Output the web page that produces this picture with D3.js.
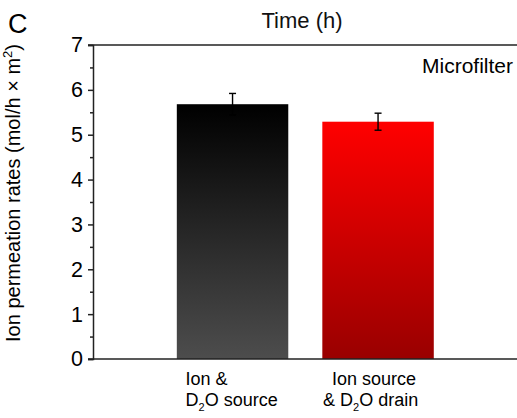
<!DOCTYPE html>
<html>
<head>
<meta charset="utf-8">
<script src="https://cdn.jsdelivr.net/npm/d3@7"></script>
<style>
  html, body { margin: 0; padding: 0; background: #fff; }
  svg { display: block; font-family: "Liberation Sans", Arial, sans-serif; }
</style>
</head>
<body>
<svg id="chart" width="517" height="418"></svg>
<script>
// Ion permeation rates through the microfilter for two configurations
const categories = ["Ion & D2O source", "Ion source & D2O drain"];
const rates = [5.68, 5.29];
const rateErrors = [0.24, 0.19];
const yTicks = [0, 1, 2, 3, 4, 5, 6, 7];
const yMinorTicks = [0.5, 1.5, 2.5, 3.5, 4.5, 5.5, 6.5];

const svg = d3.select("#chart");
const W = 517, H = 418;
const plot = { left: 93, right: 518, top: 45, bottom: 359 };

const x = d3.scaleBand()
  .domain(categories)
  .range([plot.left, 517.6])
  .paddingInner(0.234)
  .paddingOuter(0.576);

const y = d3.scaleLinear().domain([0, 7]).range([plot.bottom, plot.top]);

// vertical gradients for the two bars
const defs = svg.append("defs");
const gradStops = [
  ["#000000", "#4d4d4d"],
  ["#ff0000", "#990000"]
];
gradStops.forEach((s, i) => {
  const g = defs.append("linearGradient")
    .attr("id", "barGrad" + i)
    .attr("x1", 0).attr("y1", 0).attr("x2", 0).attr("y2", 1);
  g.append("stop").attr("offset", "0%").attr("stop-color", s[0]);
  g.append("stop").attr("offset", "100%").attr("stop-color", s[1]);
});

// panel letter and the axis title of the panel above
svg.append("text").attr("x", 8).attr("y", 33)
  .attr("font-size", 27).attr("fill", "#000").text("C");
svg.append("text").attr("x", 302).attr("y", 28)
  .attr("text-anchor", "middle").attr("font-size", 22).attr("fill", "#111").text("Time (h)");

// bars
svg.append("g").selectAll("rect")
  .data(rates)
  .join("rect")
  .attr("x", (d, i) => x(categories[i]))
  .attr("width", x.bandwidth())
  .attr("y", d => y(d))
  .attr("height", d => y(0) - y(d))
  .attr("fill", (d, i) => `url(#barGrad${i})`);

// error bars
const eb = svg.append("g").attr("stroke", "#000").attr("stroke-width", 1.4);
rates.forEach((v, i) => {
  const cx = x(categories[i]) + x.bandwidth() / 2;
  const hi = y(v + rateErrors[i]), lo = y(v - rateErrors[i]);
  eb.append("line").attr("x1", cx).attr("x2", cx).attr("y1", hi).attr("y2", lo);
  eb.append("line").attr("x1", cx - 3.5).attr("x2", cx + 3.5).attr("y1", hi).attr("y2", hi);
  eb.append("line").attr("x1", cx - 3.5).attr("x2", cx + 3.5).attr("y1", lo).attr("y2", lo);
});

// frame lines (top and bottom run to the page edge)
const axisColor = "#222";
svg.append("line").attr("x1", plot.left - 5).attr("x2", W).attr("y1", y(0)).attr("y2", y(0))
  .attr("stroke", axisColor).attr("stroke-width", 1.5);
svg.append("line").attr("x1", plot.left - 5).attr("x2", W).attr("y1", y(7)).attr("y2", y(7))
  .attr("stroke", axisColor).attr("stroke-width", 1.5);

// left axis with outward major and minor ticks
const yAxis = d3.axisLeft(y).tickValues(yTicks).tickSize(5).tickPadding(5).tickFormat(d3.format("d"));
const gy = svg.append("g").attr("transform", `translate(${plot.left},0)`).call(yAxis);
gy.select(".domain").attr("stroke", axisColor).attr("stroke-width", 1.5);
gy.selectAll(".tick line").attr("stroke", axisColor).attr("stroke-width", 1.5);
gy.selectAll(".tick text").attr("font-size", 21.5).attr("fill", "#000")
  .attr("font-family", "'Liberation Sans', Arial, sans-serif");

const yMinor = d3.axisLeft(y).tickValues(yMinorTicks).tickSize(3).tickFormat("");
const gym = svg.append("g").attr("transform", `translate(${plot.left},0)`).call(yMinor);
gym.select(".domain").remove();
gym.selectAll(".tick line").attr("stroke", axisColor).attr("stroke-width", 1.5);

// y-axis title
const yt = svg.append("text")
  .attr("transform", `translate(20,${193}) rotate(-90)`)
  .attr("text-anchor", "middle").attr("font-size", 20).attr("fill", "#000");
yt.append("tspan").text("Ion permeation rates (mol/h × m");
yt.append("tspan").attr("font-size", 13).attr("dy", -8).text("2");
yt.append("tspan").attr("dy", 8).text(")");

// panel annotation
svg.append("text").attr("x", 513).attr("y", 73)
  .attr("text-anchor", "end").attr("font-size", 21).attr("fill", "#000").text("Microfilter");

// category labels (two lines each, with subscripted 2 in D2O)
const labelLines = [
  ["Ion &", "D2O source"],
  ["Ion source", "& D2O drain"]
];
const lineOffsets = [[-47, -47], [-46, -55]];
function writeLine(sel, str) {
  const parts = str.split("D2O");
  if (parts.length === 1) { sel.text(str); return; }
  sel.append("tspan").text(parts[0] + "D");
  sel.append("tspan").attr("font-size", 11).attr("dy", 5).text("2");
  sel.append("tspan").attr("dy", -5).text("O" + parts[1]);
}
labelLines.forEach((lines, i) => {
  const cx = x(categories[i]) + x.bandwidth() / 2;
  lines.forEach((ln, j) => {
    const t = svg.append("text")
      .attr("x", cx + lineOffsets[i][j])
      .attr("y", 385 + j * 21)
      .attr("font-size", 18).attr("fill", "#000");
    writeLine(t, ln);
  });
});
</script>
</body>
</html>
